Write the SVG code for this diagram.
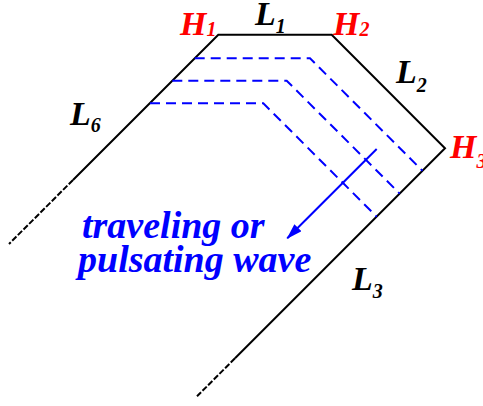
<svg xmlns="http://www.w3.org/2000/svg" width="483" height="406" viewBox="0 0 483 406">
<defs>
<style>
.wall{fill:none;stroke:#000;stroke-width:2;stroke-linejoin:miter}
.fade{fill:none;stroke:#000;stroke-width:2;stroke-dasharray:6 2}
.front{fill:none;stroke:#0000ff;stroke-width:2;stroke-dasharray:10 6}
text{font-family:'Liberation Serif','Times New Roman',serif;font-weight:bold;font-style:italic}
.lbl{font-size:34px}
.sub{font-size:20px}
.red{fill:#ff0000}
.blk{fill:#000}
.wave{font-size:38px;fill:#0000ff}
</style>
<marker id="ah" viewBox="0 0 16 10" refX="15" refY="5" markerWidth="16" markerHeight="10" markerUnits="userSpaceOnUse" orient="auto">
<path d="M0,0 L16,5 L0,10 Z" fill="#0000ff"/>
</marker>
</defs>
<g id="connectors">
<polyline class="wall" points="73,180 218.3,34.7 331.7,34.7 445,148.3 235,358.3"/>
<line class="fade" x1="73" y1="180" x2="9" y2="244"/>
<line class="fade" x1="235" y1="358.3" x2="197" y2="396.3"/>
<path class="front" d="M194.7,58.3 H310 L422.5,170.8"/>
<path class="front" d="M172.3,80.7 H286.7 L399.7,193.6"/>
<path class="front" d="M150,103.3 H263.3 L376.7,216.7"/>
<line x1="376.7" y1="149" x2="287.3" y2="238.3" stroke="#0000ff" stroke-width="2" marker-end="url(#ah)"/>
</g>
<g id="H1"><text class="lbl red" x="180" y="35">H<tspan class="sub" dy="1">1</tspan></text></g>
<g id="H2"><text class="lbl red" x="333" y="35">H<tspan class="sub" dy="1">2</tspan></text></g>
<g id="H3"><text class="lbl red" x="450" y="158">H<tspan class="sub" dy="10">3</tspan></text></g>
<g id="L1"><text class="lbl blk" x="255" y="25">L<tspan class="sub" dy="8">1</tspan></text></g>
<g id="L2"><text class="lbl blk" x="396" y="83">L<tspan class="sub" dy="9">2</tspan></text></g>
<g id="L3"><text class="lbl blk" x="352" y="290">L<tspan class="sub" dy="8">3</tspan></text></g>
<g id="L6"><text class="lbl blk" x="70" y="125">L<tspan class="sub" dy="7">6</tspan></text></g>
<g id="wave-label">
<text class="wave" x="82" y="238">traveling or</text>
<text class="wave" x="78" y="272">pulsating wave</text>
</g>
</svg>
